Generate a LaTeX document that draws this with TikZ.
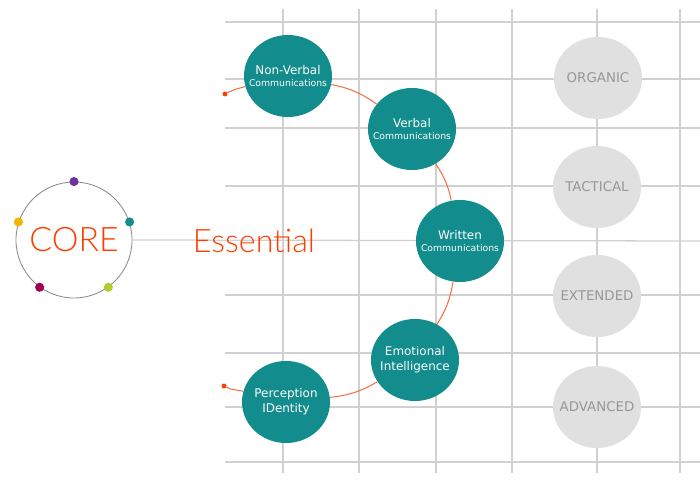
\documentclass[tikz,border=0pt]{standalone}
\usepackage{fontspec}
\setmainfont{DejaVu Sans}
\newfontfamily\thinfont{Lato}[UprightFont=* Light]
\usetikzlibrary{shapes.geometric}

\definecolor{skillteal}{HTML}{128C8C}
\definecolor{gridgray}{HTML}{D0D0D0}
\definecolor{levelfill}{HTML}{E0E0E0}
\definecolor{leveltext}{HTML}{979797}
\definecolor{coreline}{HTML}{8A8A8A}
\definecolor{corered}{HTML}{FF3D00}
\definecolor{arcorange}{HTML}{F26A3C}
\definecolor{dotpurple}{HTML}{7030A0}
\definecolor{dotteal}{HTML}{138D90}
\definecolor{dotyellow}{HTML}{F5B400}
\definecolor{dotmagenta}{HTML}{A00058}
\definecolor{dotlime}{HTML}{B5CC2E}

\newcommand\commsize{\fontsize{6.6}{8}\selectfont}

\tikzset{
  gridline/.style={draw=gridgray, line width=0.9pt},
  skill/.style={ellipse, fill=skillteal, text=white, minimum width=2.2cm, minimum height=2.05cm,
    inner xsep=-12pt, inner ysep=0pt, align=center, font=\fontsize{8.5}{10.5}\selectfont},
  level/.style={ellipse, fill=levelfill, text=leveltext, minimum width=2.2cm, minimum height=2.05cm,
    inner xsep=-12pt, inner ysep=0pt, font=\fontsize{9.5}{11}\selectfont},
  arcline/.style={draw=arcorange, line width=0.7pt},
  enddot/.style={circle, fill=corered, inner sep=0pt, minimum size=3.5pt},
  coredot/.style={circle, inner sep=0pt, minimum size=6.5pt},
}

\begin{document}
\begin{tikzpicture}[x=0.025cm,y=-0.025cm]
  \useasboundingbox (0,0) rectangle (700,491);

  %grid
  \foreach \gx in {283,359,436,512,597,680}
    \draw[gridline] (\gx,9) -- (\gx,473);
  \foreach \gy in {22,79,128,186,295,353,407,462}
    \draw[gridline] (225,\gy) -- (700,\gy);

  %core
  \node[circle, draw=coreline, line width=0.6pt, minimum size=2.9cm, inner sep=0pt,
    text=corered, font=\thinfont\fontsize{24}{24}\selectfont] (core) at (74,240) {CORE};
  \foreach \a/\c in {90/dotpurple,18/dotteal,162/dotyellow,234/dotmagenta,306/dotlime}
    \node[coredot, fill=\c] (dot\a) at (core.\a) {};

  \coordinate (gridend) at (700,241);
  \draw[gridline] (core.east) -- (gridend);
  \node[text=corered, font=\thinfont\fontsize{23}{23}\selectfont] (essential) at (254,241) {Essential};

  %levels
  \node[level] (organic) at (598,78) {ORGANIC};
  \node[level] (tactical) at (597,187) {TACTICAL};
  \node[level] (extended) at (597,296) {EXTENDED};
  \node[level] (advanced) at (597,407) {ADVANCED};

  %skills
  \node[skill] (nonverbal) at (288,76) {Non-Verbal\\[-2pt]{\commsize Communications}};
  \node[skill] (verbal) at (412,129) {Verbal\\[-2pt]{\commsize Communications}};
  \node[skill] (written) at (460,241) {Written\\[-2pt]{\commsize Communications}};
  \node[skill] (emotional) at (415,360) {Emotional\\Intelligence};
  \node[skill] (perception) at (286,402) {Perception\\IDentity};

  \node[enddot] (topend) at (225,94) {};
  \node[enddot] (botend) at (224,386) {};

  \draw[arcline] (topend) to[out=27, in=194] (nonverbal);
  \draw[arcline] (nonverbal) to[bend left=12] (verbal);
  \draw[arcline] (verbal) to[bend left=11] (written);
  \draw[arcline] (written) to[bend left=11] (emotional);
  \draw[arcline] (emotional) to[bend left=12] (perception);
  \draw[arcline] (perception) to[out=166, in=-27] (botend);
\end{tikzpicture}
\end{document}
